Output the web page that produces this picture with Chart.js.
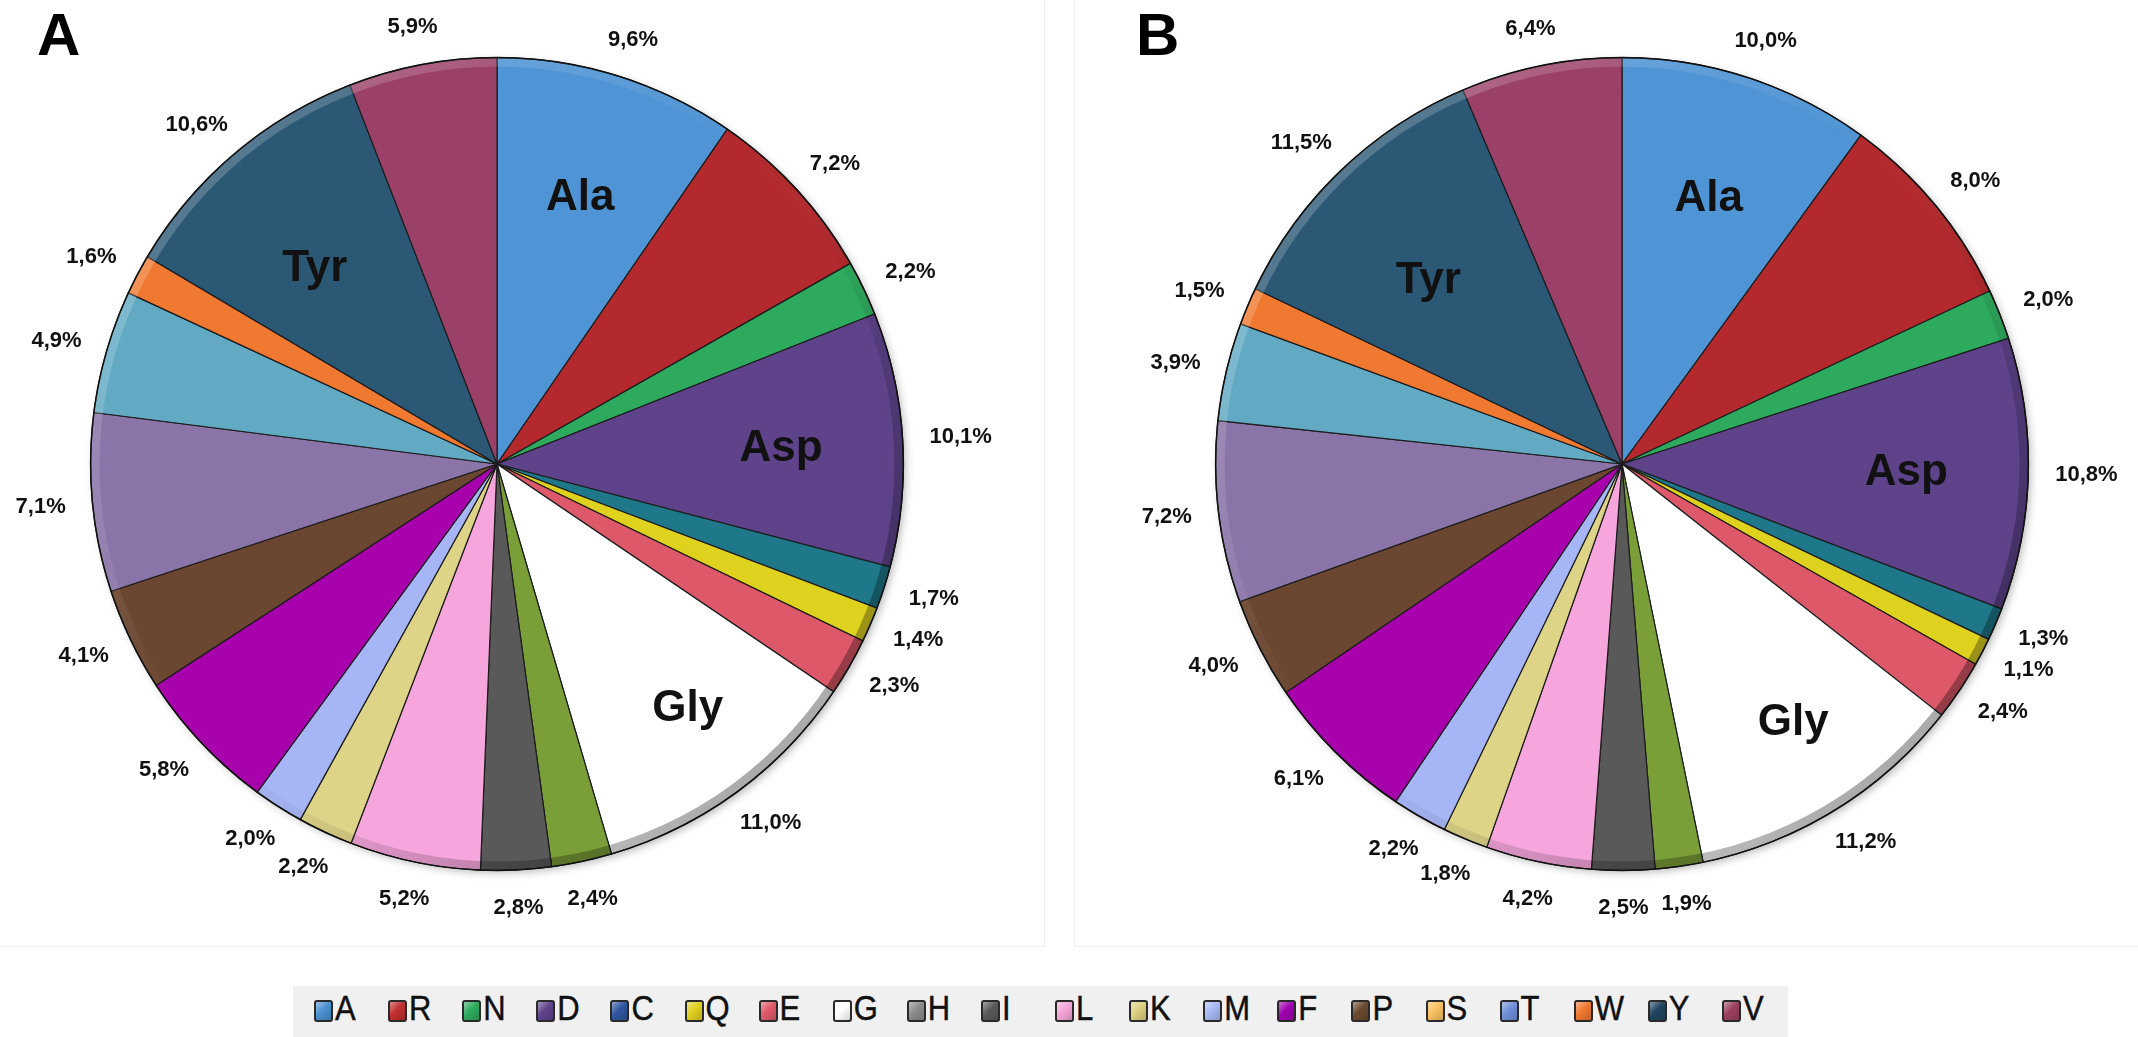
<!DOCTYPE html>
<html>
<head>
<meta charset="utf-8">
<script src="https://cdn.jsdelivr.net/npm/chart.js@4.4.1/dist/chart.umd.min.js"></script>
<style>
  body {
    margin: 0;
    width: 2138px;
    height: 1037px;
    background: #fff;
    position: relative;
    overflow: hidden;
    font-family: 'Liberation Sans', Arial, sans-serif;
  }
  .panel {
    position: absolute;
    top: -1px;
    height: 948px;
    border: 1px solid #efefef;
    box-sizing: border-box;
  }
  #panelA { left: -1px; width: 1046px; }
  #panelB { left: 1074px; width: 1070px; }
  .tag {
    position: absolute;
    top: 5px;
    font-weight: bold;
    font-size: 60px;
    line-height: 60px;
    color: #000;
  }
  canvas { position: absolute; top: 0; }
  #chartA { left: 0; }
  #chartB { left: 1125px; }
  #legend {
    position: absolute;
    left: 293px;
    top: 986px;
    width: 1495px;
    height: 51px;
    background: #f0f0f0;
  }
  .item {
    position: absolute;
    top: 0;
    height: 51px;
  }
  .box {
    position: absolute;
    left: 0;
    top: 14px;
    width: 15px;
    height: 18px;
    border: 2px solid #2a2a2a;
    border-radius: 3px;
  }
  .letter {
    position: absolute;
    left: 21px;
    top: 6px;
    font-size: 31px;
    line-height: 34px;
    color: #111;
    transform: scale(1, 1.12);
    transform-origin: 0 50%;
    -webkit-text-stroke: 0.4px #111;
  }
</style>
</head>
<body>
<div class="panel" id="panelA"></div>
<div class="panel" id="panelB"></div>
<div class="tag" style="left:37px">A</div>
<div class="tag" style="left:1136px">B</div>
<canvas id="chartA" width="994" height="928"></canvas>
<canvas id="chartB" width="994" height="928"></canvas>
<div id="legend"></div>

<script>
const aminoAcids = ['A', 'R', 'N', 'D', 'C', 'Q', 'E', 'G', 'H', 'I', 'L', 'K', 'M', 'F', 'P', 'S', 'T', 'W', 'Y', 'V'];
const sliceNames = ['Ala', '', '', 'Asp', '', '', '', 'Gly', '', '', '', '', '', '', '', '', '', '', 'Tyr', ''];

const percentA = [9.6, 7.2, 2.2, 10.1, 1.7, 1.4, 2.3, 11.0, 2.4, 2.8, 5.2, 2.2, 2.0, 5.8, 4.1, 7.1, 4.9, 1.6, 10.6, 5.9];
const percentB = [10.0, 8.0, 2.0, 10.8, 1.3, 1.1, 2.4, 11.2, 1.9, 2.5, 4.2, 1.8, 2.2, 6.1, 4.0, 7.2, 3.9, 1.5, 11.5, 6.4];

const sliceColors = ['#4f94d4', '#b3292d', '#2eaa5e', '#5e438b', '#1e788a', '#dfd21f', '#dd5868', '#ffffff', '#7a9e38', '#595959',
                     '#f6a6dc', '#ddd488', '#a6b5f5', '#a800ad', '#6b4630', '#8a74a8', '#62aac4', '#ef7930', '#2b5875', '#9b4169'];
const legendColors = ['#4a90d0', '#c0302e', '#2eaa5e', '#5e438b', '#2f56a0', '#e0d020', '#e05a6a', '#ffffff', '#8c8c8c', '#5a5a5a',
                      '#f5a5d8', '#ddd080', '#a6b8f5', '#a000b0', '#6b4a30', '#f8c060', '#7090d8', '#f07830', '#204560', '#9c4060'];

// where the names sit inside their slices: fraction of radius, angle nudge in degrees
const namePlacement = {
  Ala: { r: 0.69, turn: 0 },
  Asp: { r: 0.70, turn: 0 },
  Gly: { r: 0.76, turn: -2 },
  Tyr: { r: 0.66, turn: -2.5 }
};

function fmtPct(v) {
  return v.toFixed(1).replace('.', ',') + '%';
}

// soft shadow under the disc and a bevel-like rim on top of it
const pieShade = {
  id: 'pieShade',
  beforeDatasetsDraw(chart) {
    const arc = chart.getDatasetMeta(0).data[0];
    if (!arc) return;
    const ctx = chart.ctx;
    ctx.save();
    ctx.shadowColor = 'rgba(0,0,0,0.3)';
    ctx.shadowBlur = 8;
    ctx.shadowOffsetX = 3;
    ctx.shadowOffsetY = 3;
    ctx.beginPath();
    ctx.arc(arc.x, arc.y, arc.outerRadius - 1, 0, Math.PI * 2);
    ctx.fillStyle = '#fff';
    ctx.fill();
    ctx.restore();
  },
  afterDatasetsDraw(chart) {
    const arc = chart.getDatasetMeta(0).data[0];
    if (!arc) return;
    const ctx = chart.ctx;
    const r = arc.outerRadius;
    ctx.save();
    const g = ctx.createLinearGradient(arc.x - r, arc.y - r, arc.x + r, arc.y + r);
    g.addColorStop(0, 'rgba(255,255,255,0.30)');
    g.addColorStop(0.45, 'rgba(255,255,255,0)');
    g.addColorStop(0.6, 'rgba(0,0,0,0.05)');
    g.addColorStop(1, 'rgba(0,0,0,0.5)');
    ctx.lineWidth = 9;
    ctx.strokeStyle = g;
    ctx.beginPath();
    ctx.arc(arc.x, arc.y, r - 4.5, 0, Math.PI * 2);
    ctx.stroke();
    ctx.lineWidth = 1.5;
    ctx.strokeStyle = '#111';
    ctx.beginPath();
    ctx.arc(arc.x, arc.y, r, 0, Math.PI * 2);
    ctx.stroke();
    ctx.restore();
  }
};

// percentage outside each slice, amino-acid name inside the big ones
const sliceLabels = {
  id: 'sliceLabels',
  afterDatasetsDraw(chart) {
    const ctx = chart.ctx;
    const values = chart.data.datasets[0].data;
    const arcs = chart.getDatasetMeta(0).data;
    ctx.save();
    ctx.fillStyle = '#111';
    ctx.textAlign = 'center';
    ctx.textBaseline = 'middle';
    arcs.forEach((arc, i) => {
      const mid = (arc.startAngle + arc.endAngle) / 2;
      const dx = Math.cos(mid), dy = Math.sin(mid);
      const r = arc.outerRadius;

      ctx.font = 'bold 22px "Liberation Sans", Arial, sans-serif';
      const text = fmtPct(values[i]);
      const halfW = ctx.measureText(text).width / 2;
      const halfH = 11;
      const gap = 27;
      const tx = arc.x + dx * (r + gap) + dx * halfW;
      const ty = arc.y + dy * (r + gap) + dy * halfH;
      ctx.fillText(text, tx, ty);

      const name = sliceNames[i];
      if (name) {
        const p = namePlacement[name];
        const a = mid + p.turn * Math.PI / 180;
        ctx.font = 'bold 44px "Liberation Sans", Arial, sans-serif';
        ctx.fillText(name, arc.x + Math.cos(a) * r * p.r, arc.y + Math.sin(a) * r * p.r + 2);
      }
    });
    ctx.restore();
  }
};

function makePie(id, values) {
  return new Chart(document.getElementById(id), {
    type: 'pie',
    data: {
      labels: aminoAcids,
      datasets: [{
        data: values,
        backgroundColor: sliceColors,
        borderColor: '#1c1c1c',
        borderWidth: 1.2,
        borderJoinStyle: 'miter'
      }]
    },
    options: {
      responsive: false,
      animation: false,
      layout: { padding: { left: 90, right: 90, top: 57, bottom: 57 } },
      plugins: {
        legend: { display: false },
        tooltip: { enabled: false }
      }
    },
    plugins: [pieShade, sliceLabels]
  });
}

makePie('chartA', percentA);
makePie('chartB', percentB);

// shared legend strip along the bottom
const legend = document.getElementById('legend');
aminoAcids.forEach((aa, i) => {
  const item = document.createElement('div');
  item.className = 'item';
  item.style.left = (21 + i * 74.1) + 'px';
  const box = document.createElement('div');
  box.className = 'box';
  box.style.background = 'linear-gradient(135deg, rgba(255,255,255,0.45), rgba(255,255,255,0) 45%, rgba(0,0,0,0.18)), ' + legendColors[i];
  const letter = document.createElement('div');
  letter.className = 'letter';
  letter.textContent = aa;
  item.appendChild(box);
  item.appendChild(letter);
  legend.appendChild(item);
});
</script>
</body>
</html>
